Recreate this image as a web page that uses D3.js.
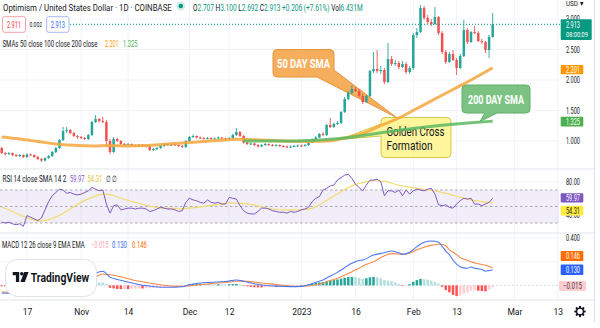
<!DOCTYPE html>
<html>
<head>
<meta charset="utf-8">
<script src="https://cdn.jsdelivr.net/npm/d3@7"></script>
<style>
html,body{margin:0;padding:0;background:#fff;overflow:hidden}
svg{display:block}
</style>
</head>
<body>
<svg id="chart" width="600" height="328"></svg>
<script>
// OP/USD daily candles, 2022-10-10 .. 2023-02-23 (Coinbase)
const firstDay = [2022, 9, 10];

const opens = [0.885,0.803,0.787,0.803,0.770,0.754,0.770,0.738,0.779,0.770,
 0.738,0.705,0.680,0.721,0.754,0.820,0.885,1.016,1.164,1.180,
 1.131,1.082,1.066,1.049,1.033,1.098,1.311,1.361,1.328,1.311,
 1.000,0.820,1.033,1.000,0.951,0.934,0.951,0.926,0.918,0.934,
 0.926,0.910,0.852,0.869,0.885,0.918,0.951,0.934,0.943,0.934,
 0.918,0.902,1.000,1.066,1.082,1.057,1.049,1.041,1.049,1.033,
 1.041,1.057,1.041,1.033,1.049,1.098,1.148,1.082,0.975,0.951,
 0.959,0.934,0.910,0.934,0.951,0.934,0.926,0.934,0.918,0.910,
 0.902,0.910,0.918,0.926,0.918,0.934,0.975,1.025,1.057,1.115,
 1.098,1.262,1.230,1.279,1.295,1.475,1.689,1.787,1.852,1.820,
 1.738,1.639,1.738,2.148,2.180,2.148,2.164,1.967,2.344,2.262,
 2.279,2.213,2.262,2.131,2.197,2.738,2.787,3.180,3.016,2.951,
 2.918,3.033,2.770,2.459,2.295,2.426,2.328,2.197,2.393,2.820,
 2.623,2.787,2.770,2.639,2.623,2.492,2.707];

const highs = [0.902,0.820,0.820,0.811,0.787,0.787,0.779,0.795,0.795,0.779,
 0.754,0.721,0.730,0.770,0.836,0.902,1.033,1.230,1.230,1.197,
 1.148,1.098,1.082,1.066,1.115,1.328,1.426,1.377,1.393,1.344,
 1.033,1.066,1.057,1.016,0.967,0.967,0.959,0.943,0.951,0.951,
 0.934,0.926,0.893,0.902,0.934,0.967,0.959,0.959,0.959,0.943,
 0.934,1.016,1.082,1.107,1.090,1.074,1.066,1.066,1.057,1.057,
 1.074,1.066,1.057,1.066,1.115,1.213,1.164,1.098,0.992,0.975,
 0.975,0.951,0.951,0.967,0.959,0.951,0.951,0.943,0.934,0.926,
 0.926,0.934,0.943,0.943,0.951,0.992,1.041,1.082,1.131,1.148,
 1.279,1.377,1.303,1.328,1.492,1.721,1.820,1.918,1.885,1.852,
 1.770,1.754,2.164,2.459,2.492,2.230,2.197,2.607,2.393,2.328,
 2.311,2.311,2.295,2.230,2.770,2.852,3.230,3.213,3.066,3.000,
 3.197,3.049,2.803,2.492,2.459,2.492,2.361,2.426,2.984,2.852,
 2.803,2.885,2.803,2.672,2.639,2.738,3.100];

const lows = [0.787,0.762,0.770,0.754,0.738,0.738,0.721,0.721,0.754,0.721,
 0.689,0.656,0.664,0.705,0.738,0.803,0.869,1.000,1.131,1.115,
 1.066,1.041,1.033,1.016,1.016,1.082,1.295,1.303,1.295,0.918,
 0.787,0.803,0.984,0.934,0.918,0.926,0.910,0.902,0.902,0.910,
 0.893,0.836,0.836,0.852,0.869,0.902,0.918,0.918,0.918,0.902,
 0.885,0.885,0.984,1.049,1.041,1.033,1.025,1.025,1.016,1.016,
 1.025,1.025,1.008,1.016,1.033,1.082,1.066,0.959,0.934,0.934,
 0.918,0.893,0.902,0.918,0.918,0.910,0.910,0.902,0.893,0.885,
 0.885,0.902,0.902,0.902,0.910,0.918,0.967,1.016,1.049,1.082,
 1.082,1.213,1.213,1.262,1.279,1.459,1.672,1.770,1.803,1.721,
 1.607,1.623,1.721,2.115,2.115,2.098,1.934,1.951,2.230,2.230,
 2.180,2.197,2.098,2.098,2.164,2.689,2.770,2.984,2.918,2.885,
 2.902,2.738,2.426,2.262,2.279,2.311,2.082,2.180,2.377,2.590,
 2.607,2.754,2.623,2.590,2.443,2.361,2.692];

const closes = [0.803,0.787,0.803,0.770,0.754,0.770,0.738,0.779,0.770,0.738,
 0.705,0.680,0.721,0.754,0.820,0.885,1.016,1.164,1.180,1.131,
 1.082,1.066,1.049,1.033,1.098,1.311,1.361,1.328,1.311,1.000,
 0.820,1.033,1.000,0.951,0.934,0.951,0.926,0.918,0.934,0.926,
 0.910,0.852,0.869,0.885,0.918,0.951,0.934,0.943,0.934,0.918,
 0.902,1.000,1.066,1.082,1.057,1.049,1.041,1.049,1.033,1.041,
 1.057,1.041,1.033,1.049,1.098,1.148,1.082,0.975,0.951,0.959,
 0.934,0.910,0.934,0.951,0.934,0.926,0.934,0.918,0.910,0.902,
 0.910,0.918,0.926,0.918,0.934,0.975,1.025,1.057,1.115,1.098,
 1.262,1.230,1.279,1.295,1.475,1.689,1.787,1.852,1.820,1.738,
 1.639,1.738,2.148,2.180,2.148,2.164,1.967,2.344,2.262,2.279,
 2.213,2.262,2.131,2.197,2.738,2.787,3.180,3.016,2.951,2.918,
 3.033,2.770,2.459,2.295,2.426,2.328,2.197,2.393,2.820,2.623,
 2.787,2.770,2.639,2.623,2.492,2.707,2.913];

// moving averages, read at the listed day offsets
const sma50Days = [0,5,10,15,20,25,30,35,40,45,50,55,60,65,70,75,80,85,90,95,100,105,110,115,120,125,130,136];
const sma50 = [1.066,1.033,0.992,0.951,0.930,0.920,0.926,0.920,0.926,0.946,0.967,0.989,1.008,1.028,1.021,1.008,0.995,0.992,0.998,1.049,1.123,1.254,1.377,1.533,1.689,1.844,2.000,2.201];
const sma200Days = [67,70,75,80,85,90,95,100,105,110,115,120,125,130,136];
const sma200 = [1.000,1.000,0.998,1.000,1.010,1.025,1.050,1.090,1.135,1.175,1.212,1.245,1.275,1.300,1.325];

// RSI 14 (daily) and its 14-day SMA
const rsi = [31,30,31,29,28,29,26,39,37,35,
 33,36,46,56,63,67,71,70,66,67,
 65,64,65,67,69,73,71,69,70,53,
 42,51,52,46,47,48,48,47,48,48,
 47,44,45,47,49,48,47,47,46,44,
 45,55,60,58,57,55,54,58,55,54,
 55,53,53,61,60,59,51,45,42,41,
 41,44,48,48,47,45,44,43,43,42,
 44,43,44,46,47,49,56,60,62,70,
 72,75,76,82,85,88,89,84,77,73,
 69,76,82,82,83,80,63,69,69,67,
 70,63,70,65,69,71,70,69,71,72,
 65,52,51,52,49,48,53,57,60,59,
 60,53,53,51,53,55,59.97];
const rsiMaDays = [0,3,6,9,11,13,16,19,22,25,27,29,31,33,37,41,45,50,55,60,64,69,73,78,83,86,88,91,94,97,100,103,106,109,112,115,118,121,124,127,130,133,136];
const rsiMa = [49.5,44,38,33.5,32.5,34,39.5,47,55,61,64,65,63,60,55,50.5,48,47.5,49.5,52.5,54.5,52.5,48.5,46,46,48,52,60,68,75,79,81.5,80.5,77,74,72,70,68,65,61,58,56,54.31];

// MACD 12 26 9
const macdDays = [0,5,10,13,16,18,21,24,26,28,30,32,34,38,40,44,48,50,52,55,58,62,65,67,69,72,76,80,83,85,87,89,90,93,94,97,99,100,103,106,108,110,111,113,115,117,119,120,121,122,123,124,125,126,127,128,129,130,131,132,133,134,135,136];
const macd = [-0.064,-0.07,-0.075,-0.07,-0.03,0.02,0.04,0.05,0.1,0.12,0.07,0.05,0.035,0.008,-0.002,-0.015,-0.016,-0.012,0.005,0.02,0.026,0.033,0.045,0.035,0.02,0.003,-0.006,-0.01,-0.008,0.005,0.026,0.045,0.062,0.11,0.13,0.186,0.21,0.214,0.256,0.275,0.29,0.275,0.262,0.28,0.327,0.364,0.375,0.372,0.365,0.33,0.29,0.26,0.214,0.18,0.158,0.148,0.145,0.155,0.145,0.14,0.135,0.12,0.125,0.130];
const signalDays = [0,5,10,13,16,18,21,24,26,28,30,32,34,38,40,44,48,50,52,55,58,62,65,67,69,72,76,80,83,85,87,89,90,93,94,97,99,100,103,106,108,110,111,113,115,117,119,121,122,123,124,125,126,127,128,129,130,131,132,133,134,135,136];
const signal = [-0.056,-0.06,-0.065,-0.065,-0.05,-0.03,0.0,0.03,0.07,0.096,0.09,0.08,0.065,0.035,0.025,0.005,-0.008,-0.008,-0.004,0.005,0.015,0.025,0.035,0.036,0.032,0.02,0.008,-0.005,-0.008,-0.005,0.005,0.02,0.031,0.06,0.073,0.116,0.145,0.164,0.2,0.25,0.268,0.265,0.264,0.272,0.3,0.322,0.338,0.347,0.345,0.335,0.3,0.28,0.26,0.234,0.222,0.21,0.2,0.19,0.183,0.176,0.17,0.16,0.146];
const histogram = [-0.008,-0.009,-0.010,-0.010,-0.011,-0.010,-0.012,-0.010,-0.010,-0.011,
 -0.012,-0.012,-0.008,-0.004,0.004,0.012,0.022,0.038,0.048,0.046,
 0.042,0.037,0.030,0.024,0.022,0.027,0.028,0.026,0.024,0.012,
 -0.020,-0.025,-0.030,-0.032,-0.030,-0.030,-0.028,-0.027,-0.026,-0.026,
 -0.025,-0.024,-0.022,-0.020,-0.018,-0.014,-0.012,-0.010,-0.008,-0.006,
 -0.004,0.004,0.008,0.012,0.014,0.014,0.013,0.012,0.011,0.010,
 0.010,0.009,0.008,0.010,0.011,0.012,0.006,-0.002,-0.008,-0.012,
 -0.015,-0.017,-0.017,-0.016,-0.015,-0.014,-0.014,-0.012,-0.011,-0.009,
 -0.006,-0.004,-0.002,0.000,0.003,0.010,0.016,0.021,0.025,0.028,
 0.034,0.040,0.045,0.050,0.057,0.065,0.070,0.072,0.070,0.064,
 0.055,0.060,0.068,0.072,0.068,0.060,0.045,0.040,0.035,0.025,
 0.012,-0.004,-0.002,0.010,0.030,0.045,0.055,0.052,0.048,0.040,
 0.030,0.016,-0.012,-0.040,-0.058,-0.080,-0.090,-0.085,-0.070,-0.062,
 -0.045,-0.040,-0.045,-0.048,-0.050,-0.035,-0.015];

// time axis
const tickDates = ["2022-10-17","2022-11-01","2022-11-14","2022-12-01","2022-12-12","2023-01-01","2023-01-16","2023-02-01","2023-02-13","2023-03-01","2023-03-13"];
const tickLabels = ["17","Nov","14","Dec","12","2023","16","Feb","13","Mar","13"];
const priceTicks = [1, 1.5, 2, 2.5, 3];
const rsiTicks = [80, 40];
const macdTicks = [0.4];

// ---------------------------------------------------------------
const FONT = "Roboto, 'Liberation Sans', Arial, sans-serif";
const UP = "#26a69a", DOWN = "#ef5350";
const GRID = "#f0f3fa", SEP = "#e0e3eb", TXT = "#131722";

const svg = d3.select("#chart");
const dayDate = i => new Date(Date.UTC(firstDay[0], firstDay[1], firstDay[2] + i));
const parse = d3.utcParse("%Y-%m-%d");
const ticks = tickDates.map(parse);

const x = d3.scaleUtc().domain([dayDate(0), dayDate(closes.length - 1)]).range([1.7, 492.7]);
const yP = d3.scaleLinear().domain([1, 3]).range([141, 19]);
const yR = d3.scaleLinear().domain([30, 70]).range([223, 190]);
const yM = d3.scaleLinear().domain([0, 0.4]).range([285.4, 238]);

// squeeze a text horizontally so it spans `len` pixels (narrow UI face)
function narrow(t, len) {
  const n = t.node().getComputedTextLength();
  if (n > 0) t.attr("transform", `scale(${len / n},1)`);
}
function label(g, xx, yy, str, o = {}) {
  const w = g.append("g").attr("transform", `translate(${xx},${yy})`);
  const t = w.append("text").text(str)
    .attr("font-family", o.family || FONT)
    .attr("font-size", o.size || 8.5)
    .attr("fill", o.fill || TXT)
    .attr("text-anchor", o.anchor || "start");
  if (o.weight) t.attr("font-weight", o.weight);
  if (o.len) narrow(t, o.len);
  return t;
}

// ---------- grid & pane separators ----------
const grid = svg.append("g");
grid.selectAll("line.v").data(ticks).join("line")
  .attr("x1", d => x(d)).attr("x2", d => x(d)).attr("y1", 0).attr("y2", 300)
  .attr("stroke", GRID).attr("stroke-width", 1);
grid.selectAll("line.h").data(priceTicks).join("line")
  .attr("x1", 0).attr("x2", 559).attr("y1", d => yP(d)).attr("y2", d => yP(d))
  .attr("stroke", GRID);
grid.selectAll("line.r").data([80]).join("line")
  .attr("x1", 0).attr("x2", 559).attr("y1", d => yR(d)).attr("y2", d => yR(d)).attr("stroke", GRID);
grid.selectAll("line.m").data([0.4, 0.2]).join("line")
  .attr("x1", 0).attr("x2", 559).attr("y1", d => yM(d)).attr("y2", d => yM(d)).attr("stroke", GRID);
[169, 233, 300].forEach(yy => grid.append("line").attr("x1", 0).attr("x2", 594)
  .attr("y1", yy).attr("y2", yy).attr("stroke", SEP));
grid.append("line").attr("x1", 594.5).attr("x2", 594.5).attr("y1", 0).attr("y2", 322).attr("stroke", SEP);

// ---------- callouts ----------
const notes = svg.append("g");
notes.append("path")
  .attr("d", "M277,49.5 H330 Q334,49.5 334,53.5 V70 L396.5,117.5 L317,77 H277 Q273,77 273,73 V53.5 Q273,49.5 277,49.5 Z")
  .attr("fill", "#f7ae5c").attr("stroke", "#e3963a").attr("stroke-width", 1);
label(notes, 303.5, 67.5, "50 DAY SMA", {size: 12, weight: "bold", fill: "#fff", anchor: "middle", len: 53});

notes.append("path")
  .attr("d", "M385,117.5 H447 Q451,117.5 451,121.5 V153.5 Q451,157.5 447,157.5 H385 Q381,157.5 381,153.5 V136 L340,139.5 L381,124 V121.5 Q381,117.5 385,117.5 Z")
  .attr("fill", "#fff59d").attr("stroke", "#d4c94a").attr("stroke-width", 1);
label(notes, 386.5, 136, "Golden Cross", {size: 12.5, len: 58});
label(notes, 386.5, 150, "Formation", {size: 12.5, len: 46});

notes.append("path")
  .attr("d", "M466,85 H526 Q530,85 530,89 V109 Q530,113 526,113 H497 L480,121.5 L485,113 H466 Q462,113 462,109 V89 Q462,85 466,85 Z")
  .attr("fill", "#7cc383").attr("stroke", "#5fae67").attr("stroke-width", 1);
label(notes, 496, 103.5, "200 DAY SMA", {size: 12.5, weight: "bold", fill: "#fff", anchor: "middle", len: 56});

// ---------- candles ----------
const candles = closes.map((c, i) => ({d: dayDate(i), o: opens[i], h: highs[i], l: lows[i], c}));
const cg = svg.append("g");
cg.selectAll("line").data(candles).join("line")
  .attr("x1", d => x(d.d)).attr("x2", d => x(d.d))
  .attr("y1", d => yP(d.h)).attr("y2", d => yP(d.l))
  .attr("stroke", d => d.c >= d.o ? UP : DOWN).attr("stroke-width", 0.9);
cg.selectAll("rect").data(candles).join("rect")
  .attr("x", d => x(d.d) - 1.25).attr("width", 2.5)
  .attr("y", d => yP(Math.max(d.o, d.c)))
  .attr("height", d => Math.max(1, Math.abs(yP(d.o) - yP(d.c))))
  .attr("fill", d => d.c >= d.o ? UP : DOWN);

// ---------- SMA lines ----------
const smaLine = d3.line().x(d => x(dayDate(d[0]))).y(d => yP(d[1])).curve(d3.curveMonotoneX);
svg.append("path").datum(d3.zip(sma50Days, sma50)).attr("d", smaLine)
  .attr("fill", "none").attr("stroke", "#f6a63c").attr("stroke-opacity", 0.85).attr("stroke-width", 3);
svg.append("path").datum(d3.zip(sma200Days, sma200)).attr("d", smaLine)
  .attr("fill", "none").attr("stroke", "#5cb860").attr("stroke-opacity", 0.85).attr("stroke-width", 3);

// last price line
svg.append("line").attr("x1", 70).attr("x2", 560).attr("y1", yP(2.913)).attr("y2", yP(2.913))
  .attr("stroke", "#089981").attr("stroke-dasharray", "1,2").attr("stroke-width", 1);

// ---------- RSI pane ----------
const rg = svg.append("g");
rg.append("rect").attr("x", 0).attr("width", 559).attr("y", yR(70)).attr("height", yR(30) - yR(70))
  .attr("fill", "#7e57c2").attr("fill-opacity", 0.1);
rg.selectAll("line").data([70, 50, 30]).join("line")
  .attr("x1", 0).attr("x2", 559).attr("y1", d => yR(d)).attr("y2", d => yR(d))
  .attr("stroke", "#9598a1").attr("stroke-dasharray", "2.5,2.5").attr("stroke-width", 0.8);
rg.append("path").datum(d3.zip(rsiMaDays, rsiMa))
  .attr("d", d3.line().x(d => x(dayDate(d[0]))).y(d => yR(d[1])).curve(d3.curveMonotoneX))
  .attr("fill", "none").attr("stroke", "#f1dc6e").attr("stroke-width", 1.2);
rg.append("path").datum(rsi.map((v, i) => [i, v]))
  .attr("d", d3.line().x(d => x(dayDate(d[0]))).y(d => yR(d[1])))
  .attr("fill", "none").attr("stroke", "#7e57c2").attr("stroke-width", 1);

// ---------- MACD pane ----------
const mg = svg.append("g");
mg.append("line").attr("x1", 0).attr("x2", 559).attr("y1", yM(0)).attr("y2", yM(0))
  .attr("stroke", "#d1d4dc").attr("stroke-dasharray", "2,2").attr("stroke-width", 0.8);
const hist = histogram.map((v, i) => ({i, v, prev: i ? histogram[i - 1] : v}));
mg.selectAll("rect").data(hist).join("rect")
  .attr("x", d => x(dayDate(d.i)) - 1.25).attr("width", 2.5)
  .attr("y", d => Math.min(yM(0), yM(d.v)))
  .attr("height", d => Math.max(0.6, Math.abs(yM(d.v) - yM(0))))
  .attr("fill", d => d.v >= 0 ? (d.v >= d.prev ? "#26a69a" : "#b2dfdb") : (d.v <= d.prev ? "#ff5252" : "#ffcdd2"));
const mLine = d3.line().x(d => x(dayDate(d[0]))).y(d => yM(d[1])).curve(d3.curveMonotoneX);
mg.append("path").datum(d3.zip(signalDays, signal)).attr("d", mLine)
  .attr("fill", "none").attr("stroke", "#f98a45").attr("stroke-width", 1.1);
mg.append("path").datum(d3.zip(macdDays, macd)).attr("d", mLine)
  .attr("fill", "none").attr("stroke", "#4a78f5").attr("stroke-width", 1.1);

// ---------- axes ----------
function styleAxis(g, len) {
  g.select(".domain").remove();
  g.selectAll("text").attr("font-family", FONT).attr("font-size", 8.5).attr("fill", TXT);
  if (len) g.selectAll("text").each(function () { narrow(d3.select(this), len); });
}
svg.append("g").attr("transform", "translate(0,309)")
  .call(d3.axisBottom(x).tickValues(ticks).tickFormat((d, i) => tickLabels[i]).tickSize(0).tickPadding(0))
  .call(g => styleAxis(g));
svg.append("g").attr("transform", "translate(566,0)")
  .call(d3.axisRight(yP).tickValues(priceTicks).tickFormat(d3.format(".3f")).tickSize(0).tickPadding(0))
  .call(g => styleAxis(g, 14));
svg.append("g").attr("transform", "translate(566,0)")
  .call(d3.axisRight(yR).tickValues(rsiTicks).tickFormat(d3.format(".2f")).tickSize(0).tickPadding(0))
  .call(g => styleAxis(g, 14));
svg.append("g").attr("transform", "translate(566,0)")
  .call(d3.axisRight(yM).tickValues(macdTicks).tickFormat(d3.format(".3f")).tickSize(0).tickPadding(0))
  .call(g => styleAxis(g, 14));

label(svg, 566, 5.5, "USD ▾", {size: 7.5, len: 17});

// price-scale value tags
const tags = svg.append("g");
function tag(y0, h, fill, txt, color, w = 22.6, x0 = 560.7) {
  tags.append("rect").attr("x", x0).attr("y", y0).attr("width", w).attr("height", h).attr("rx", 1).attr("fill", fill);
  label(tags, 566, y0 + h / 2 + 3, txt, {fill: color || "#fff", size: 8.5, len: 14});
}
tags.append("rect").attr("x", 560.7).attr("y", 19.3).attr("width", 31).attr("height", 20.7).attr("rx", 1).attr("fill", "#089981");
label(tags, 566, 27.8, "2.913", {fill: "#fff", size: 8.5, len: 14});
label(tags, 566, 36.5, "08:00:09", {fill: "#fff", size: 7.5, len: 22});
tag(65, 9.2, "#ff9800", "2.201");
tag(116.8, 9.8, "#4caf50", "1.325");
tag(193.3, 9.2, "#7e57c2", "59.97");
tag(205.8, 9.8, "#ffeb3b", "54.31", TXT);
tag(251, 10, "#ff6d00", "0.146");
tag(264.5, 10.5, "#2962ff", "0.130");
tags.append("rect").attr("x", 559).attr("y", 281).attr("width", 27).attr("height", 10).attr("rx", 1).attr("fill", "#ffcdd2");
label(tags, 563, 289, "−0.015", {fill: "#4e3a3c", size: 8.5, len: 19});

// ---------- legends ----------
const lg = svg.append("g");
label(lg, 3, 10.5, "Optimism / United States Dollar · 1D · COINBASE", {size: 9.5, len: 169});
lg.append("circle").attr("cx", 180.8).attr("cy", 6).attr("r", 4.5).attr("fill", "#089981").attr("fill-opacity", 0.18);
lg.append("circle").attr("cx", 180.8).attr("cy", 6).attr("r", 2.3).attr("fill", "#089981");
const ohlc = lg.append("g").attr("transform", "translate(193,10.5)").append("text")
  .attr("font-family", FONT).attr("font-size", 9.5).attr("fill", TXT);
[["O", TXT], ["2.707", "#089981"], [" H", TXT], ["3.100", "#089981"], [" L", TXT], ["2.692", "#089981"],
 [" C", TXT], ["2.913", "#089981"], [" +0.206 (+7.61%)", "#089981"], [" Vol", TXT], ["6.431M", "#089981"]]
  .forEach(([s, c]) => ohlc.append("tspan").attr("fill", c).text(s));
narrow(ohlc, 170);

lg.append("rect").attr("x", 2.5).attr("y", 16.7).attr("width", 23).attr("height", 15.6).attr("rx", 2)
  .attr("fill", "#fff").attr("stroke", "#f4a2a9");
label(lg, 14, 27.7, "2.911", {fill: "#f23645", size: 8.5, anchor: "middle", len: 14});
label(lg, 29.5, 27.3, "0.002", {fill: TXT, size: 6.5, len: 12.5});
lg.append("rect").attr("x", 46.7).attr("y", 16.7).attr("width", 22.3).attr("height", 15.6).attr("rx", 2)
  .attr("fill", "#fff").attr("stroke", "#a8b8f4");
label(lg, 57.8, 27.7, "2.913", {fill: "#2962ff", size: 8.5, anchor: "middle", len: 14});

label(lg, 2.5, 46.5, "SMAs 50 close 100 close 200 close", {size: 8.5, len: 95});
label(lg, 105, 46.5, "2.201", {size: 8.5, fill: "#ff9800", len: 13.5});
label(lg, 123, 46.5, "1.325", {size: 8.5, fill: "#4caf50", len: 14.5});

label(lg, 2.5, 181.5, "RSI 14 close SMA 14 2", {size: 8.5, len: 64});
label(lg, 70, 181.5, "59.97", {size: 8.5, fill: "#7e57c2", len: 14.5});
label(lg, 87.5, 181.5, "54.31", {size: 8.5, fill: "#e5c52a", len: 15});
label(lg, 106, 181.5, "∅ ∅", {size: 8.5, fill: TXT, len: 11});

label(lg, 2, 248.3, "MACD 12 26 close 9 EMA EMA", {size: 8.5, len: 83});
label(lg, 91, 248.3, "−0.015", {size: 8.5, fill: "#f7a1a9", len: 17.5});
label(lg, 112, 248.3, "0.130", {size: 8.5, fill: "#2962ff", len: 15});
label(lg, 132, 248.3, "0.146", {size: 8.5, fill: "#ff6d00", len: 15});

// ---------- brand badge ----------
const badge = svg.append("g");
badge.append("rect").attr("x", 5.5).attr("y", 259.5).attr("width", 91).attr("height", 37).attr("rx", 12)
  .attr("fill", "#fff").attr("stroke", "#e0e3eb");
badge.append("path").attr("d", "M12.7,272 H19.2 V282 H15.9 V275.2 H12.7 Z").attr("fill", TXT);
badge.append("circle").attr("cx", 21.8).attr("cy", 273.8).attr("r", 1.8).attr("fill", TXT);
badge.append("path").attr("d", "M24.2,272 H28.6 L24.8,282 H20.4 Z").attr("fill", TXT);
label(badge, 30.7, 281.5, "TradingView", {size: 13, weight: "bold", len: 58.5});

// settings cog
const cog = svg.append("g").attr("transform", "translate(580,311.5)");
cog.selectAll("rect").data([0, 45, 90, 135, 180, 225, 270, 315]).join("rect")
  .attr("x", -1).attr("y", -5.6).attr("width", 2).attr("height", 2.6)
  .attr("transform", d => `rotate(${d})`).attr("fill", TXT);
cog.append("circle").attr("r", 3.4).attr("fill", "none").attr("stroke", TXT).attr("stroke-width", 1.4);
</script>
</body>
</html>
